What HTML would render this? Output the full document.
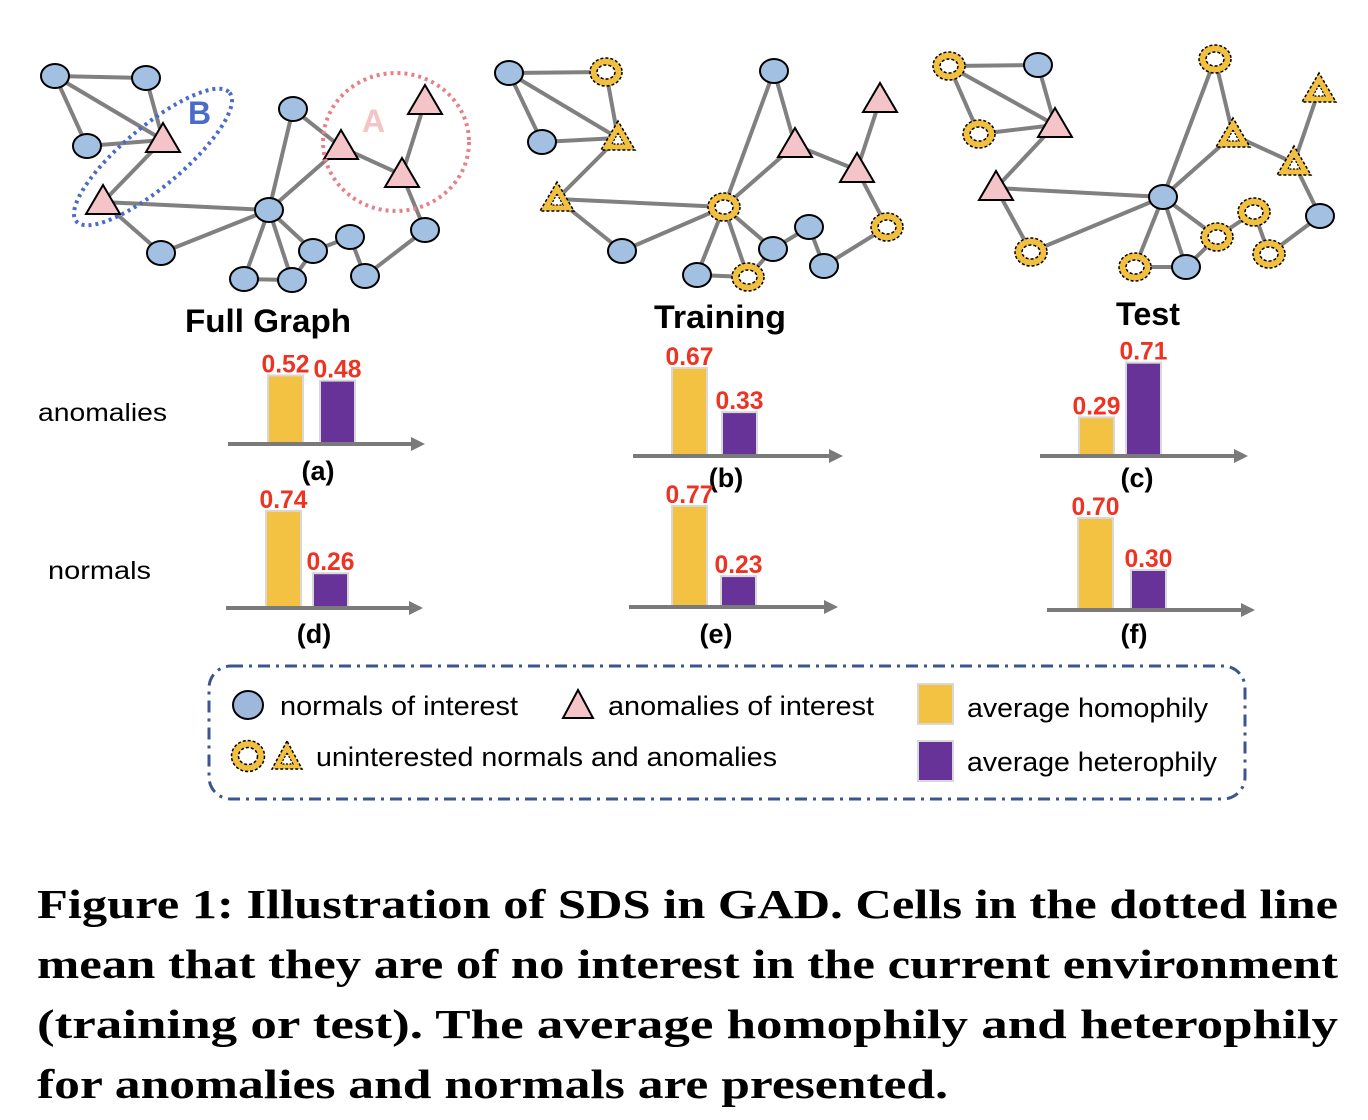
<!DOCTYPE html>
<html><head><meta charset="utf-8"><style>
html,body{margin:0;padding:0;background:#fff;}
svg{display:block;}
</style></head><body>
<svg id="fig" width="1368" height="1120" viewBox="0 0 1368 1120" xmlns="http://www.w3.org/2000/svg" font-family="Liberation Sans, sans-serif">
<g id="graphs"></g>
<ellipse cx="153" cy="157" rx="100" ry="30" transform="rotate(-40 153 157)" fill="none" stroke="#4a6cc8" stroke-width="4" stroke-dasharray="3,4"/>
<text x="188" y="124" font-size="32" font-weight="bold" fill="#4a6cc8">B</text>
<ellipse cx="396" cy="142" rx="73" ry="69" fill="none" stroke="#e8808a" stroke-width="4" stroke-dasharray="3,4"/>
<text x="362" y="132" font-size="32" font-weight="bold" fill="#f4c4c8">A</text>
<text x="268" y="332" font-size="32" font-weight="bold" text-anchor="middle" textLength="166" lengthAdjust="spacingAndGlyphs">Full Graph</text>
<text x="720" y="328" font-size="32" font-weight="bold" text-anchor="middle" textLength="132" lengthAdjust="spacingAndGlyphs">Training</text>
<text x="1148" y="325" font-size="32" font-weight="bold" text-anchor="middle" textLength="64" lengthAdjust="spacingAndGlyphs">Test</text>
<text x="38" y="421" font-size="25" textLength="129" lengthAdjust="spacingAndGlyphs">anomalies</text>
<text x="48" y="579" font-size="25" textLength="103" lengthAdjust="spacingAndGlyphs">normals</text>
<g id="bars"></g>
<g>
<rect x="209" y="666" width="1036" height="133" rx="22" fill="none" stroke="#3a5590" stroke-width="3" stroke-dasharray="12,6,3,6"/>
<ellipse cx="248" cy="705" rx="15" ry="14" fill="#9db7dd" stroke="#000" stroke-width="2"/>
<text x="280" y="715" font-size="27" textLength="238" lengthAdjust="spacingAndGlyphs">normals of interest</text>
<polygon points="578,690 563,718 593,718" fill="#f4c4c8" stroke="#000" stroke-width="2"/>
<text x="608" y="715" font-size="27" textLength="266" lengthAdjust="spacingAndGlyphs">anomalies of interest</text>
<g>
<ellipse cx="248" cy="756" rx="13" ry="12" fill="#fff" stroke="#f2c040" stroke-width="7"/>
<ellipse cx="248" cy="756" rx="16.5" ry="15.5" fill="none" stroke="#000" stroke-width="1.5" stroke-dasharray="3,2"/>
<ellipse cx="248" cy="756" rx="9.5" ry="8.5" fill="none" stroke="#000" stroke-width="1.5" stroke-dasharray="3,2"/>
</g>
<g>
<polygon points="287,741 272,769 302,769" fill="#f2c040" stroke="#000" stroke-width="1.5" stroke-dasharray="3,2"/>
<polygon points="287,753 281,764 293,764" fill="#fff" stroke="#000" stroke-width="1.2" stroke-dasharray="2,1.5"/>
</g>
<text x="316" y="766" font-size="27" textLength="461" lengthAdjust="spacingAndGlyphs">uninterested normals and anomalies</text>
<rect x="918" y="684" width="35" height="40" fill="#f4c242" stroke="#d8d8d8" stroke-width="2"/>
<text x="967" y="717" font-size="27" textLength="241" lengthAdjust="spacingAndGlyphs">average homophily</text>
<rect x="918" y="741" width="35" height="40" fill="#673399" stroke="#d8d8d8" stroke-width="2"/>
<text x="967" y="771" font-size="27" textLength="250" lengthAdjust="spacingAndGlyphs">average heterophily</text>
</g>
<g font-family="Liberation Serif, serif" font-weight="bold" font-size="41">
<text x="37" y="918" textLength="1301" lengthAdjust="spacingAndGlyphs">Figure 1: Illustration of SDS in GAD. Cells in the dotted line</text>
<text x="37" y="978" textLength="1301" lengthAdjust="spacingAndGlyphs">mean that they are of no interest in the current environment</text>
<text x="37" y="1038" textLength="1301" lengthAdjust="spacingAndGlyphs">(training or test). The average homophily and heterophily</text>
<text x="37" y="1098" textLength="911" lengthAdjust="spacingAndGlyphs">for anomalies and normals are presented.</text>
</g>
</svg>
<script>
// ---- chart data ----
const panelLabels = ['(a)','(b)','(c)','(d)','(e)','(f)'];
const homophily = [0.52, 0.67, 0.29, 0.74, 0.77, 0.70];
const heterophily = [0.48, 0.33, 0.71, 0.26, 0.23, 0.30];
const valueLabelsHomo = ['0.52','0.67','0.29','0.74','0.77','0.70'];
const valueLabelsHetero = ['0.48','0.33','0.71','0.26','0.23','0.30'];

const NS = 'http://www.w3.org/2000/svg';
function mk(tag, attrs, parent){const e=document.createElementNS(NS,tag);for(const k in attrs)e.setAttribute(k,attrs[k]);parent.appendChild(e);return e;}

// panel layout (positions only)
const panelGeom = [
 {x0:228,x1:425,base:443,b1:268,b2:320,lx:318,ly:480},
 {x0:633,x1:843,base:455,b1:672,b2:722,lx:726,ly:487},
 {x0:1040,x1:1248,base:455,b1:1079,b2:1126,lx:1137,ly:487},
 {x0:226,x1:423,base:607,b1:266,b2:313,lx:314,ly:643},
 {x0:629,x1:838,base:606,b1:672,b2:721,lx:716,ly:643},
 {x0:1047,x1:1255,base:609,b1:1078,b2:1131,lx:1134,ly:643}
];
const unit = 130;
function yScale(v, base){ return base - v*unit; }
const barsG = document.getElementById('bars');
panelGeom.forEach((p,i)=>{
  const g = mk('g',{},barsG);
  
  
  const bw = 35;
  const yH = yScale(homophily[i], p.base), yT = yScale(heterophily[i], p.base);
  const r1 = mk('rect',{x:p.b1,y:yH,width:bw,height:p.base-yH,fill:'#f4c242',stroke:'#d8d8d8','stroke-width':2},g);
  
  
  const r2 = mk('rect',{x:p.b2,y:yT,width:bw,height:p.base-yT,fill:'#673399',stroke:'#d8d8d8','stroke-width':2},g);
  
  
  const ax = mk('line',{x1:p.x0,y1:p.base+1,x2:p.x1-12,y2:p.base+1,stroke:'#7a7a7a','stroke-width':4},g);
  
  
  const ar = mk('polygon',{points:`${p.x1},${p.base+1} ${p.x1-14},${p.base-6} ${p.x1-14},${p.base+8}`,fill:'#7a7a7a'},g);
  
  
  const t1 = mk('text',{x:p.b1+bw/2,y:yH-3,'font-size':25,'font-weight':'bold',fill:'#ee3322','text-anchor':'middle',textLength:48,lengthAdjust:'spacingAndGlyphs'},g);
  t1.textContent = valueLabelsHomo[i];
  
  
  const t2 = mk('text',{x:p.b2+bw/2,y:yT-3,'font-size':25,'font-weight':'bold',fill:'#ee3322','text-anchor':'middle',textLength:48,lengthAdjust:'spacingAndGlyphs'},g);
  t2.textContent = valueLabelsHetero[i];
  
  
  const pl = mk('text',{x:p.lx,y:p.ly,'font-size':27,'font-weight':'bold','text-anchor':'middle'},g);
  pl.textContent = panelLabels[i];
  
  
});

// ---- graphs ----
const edges = [[0,1],[0,2],[0,3],[1,3],[2,3],[3,4],[4,7],[4,5],[5,7],[6,7],[6,8],[7,8],[8,10],[9,10],[10,11],[11,16],[16,13],[13,12],[12,7],[7,14],[7,15],[14,15],[15,12]];
const isTri = i => [3,4,8,9,10].includes(i);
const graphNodes = [
 [[55,76],[146,78],[87,146],[163,140],[103,202],[161,253],[293,109],[269,210],[341,147],[425,102],[402,175],[425,230],[313,251],[350,237],[244,279],[292,280],[365,276]],
 [[509,73],[606,72],[542,142],[618,138],[557,199],[622,251],[774,71],[724,207],[795,145],[880,100],[857,170],[887,227],[773,249],[809,227],[697,275],[748,277],[824,266]],
 [[949,66],[1038,65],[979,134],[1055,125],[996,188],[1031,252],[1215,59],[1163,197],[1233,135],[1319,90],[1294,163],[1320,216],[1217,237],[1254,212],[1135,267],[1186,267],[1269,254]]
];
const uninterested = [[],[1,3,4,7,11,15],[0,2,5,6,8,9,10,12,13,14,16]];
const graphNames = ['full-graph','training-graph','test-graph'];
const gg = document.getElementById('graphs');
graphNodes.forEach((nodes,gi)=>{
  const g = mk('g',{},gg);
  
  
  edges.forEach(([a,b])=>{
    const l = mk('line',{x1:nodes[a][0],y1:nodes[a][1],x2:nodes[b][0],y2:nodes[b][1],stroke:'#808080','stroke-width':4},g);
    
    
  });
  nodes.forEach(([x,y],i)=>{
    const un = uninterested[gi].includes(i);
    const n = mk('g',{},g);
    
    
    if(isTri(i)){
      const pts = `${x},${y-17} ${x-17},${y+12} ${x+17},${y+12}`;
      if(un){
        mk('polygon',{points:pts,fill:'#f2c040',stroke:'#000','stroke-width':1.5,'stroke-dasharray':'3,2'},n);
        mk('polygon',{points:`${x},${y-5} ${x-6},${y+6} ${x+6},${y+6}`,fill:'#fff',stroke:'#000','stroke-width':1.2,'stroke-dasharray':'2,1.5'},n);
      } else {
        mk('polygon',{points:pts,fill:'#f4c4c8',stroke:'#000','stroke-width':2},n);
      }
    } else {
      if(un){
        mk('ellipse',{cx:x,cy:y,rx:12.5,ry:10.5,fill:'#fff',stroke:'#f2c040','stroke-width':7},n);
        mk('ellipse',{cx:x,cy:y,rx:16,ry:14,fill:'none',stroke:'#000','stroke-width':1.5,'stroke-dasharray':'3,2'},n);
        mk('ellipse',{cx:x,cy:y,rx:9,ry:7,fill:'none',stroke:'#000','stroke-width':1.5,'stroke-dasharray':'3,2'},n);
      } else {
        mk('ellipse',{cx:x,cy:y,rx:14,ry:12,fill:'#a2c0e2',stroke:'#000','stroke-width':2},n);
      }
    }
  });
});
</script>
</body></html>
